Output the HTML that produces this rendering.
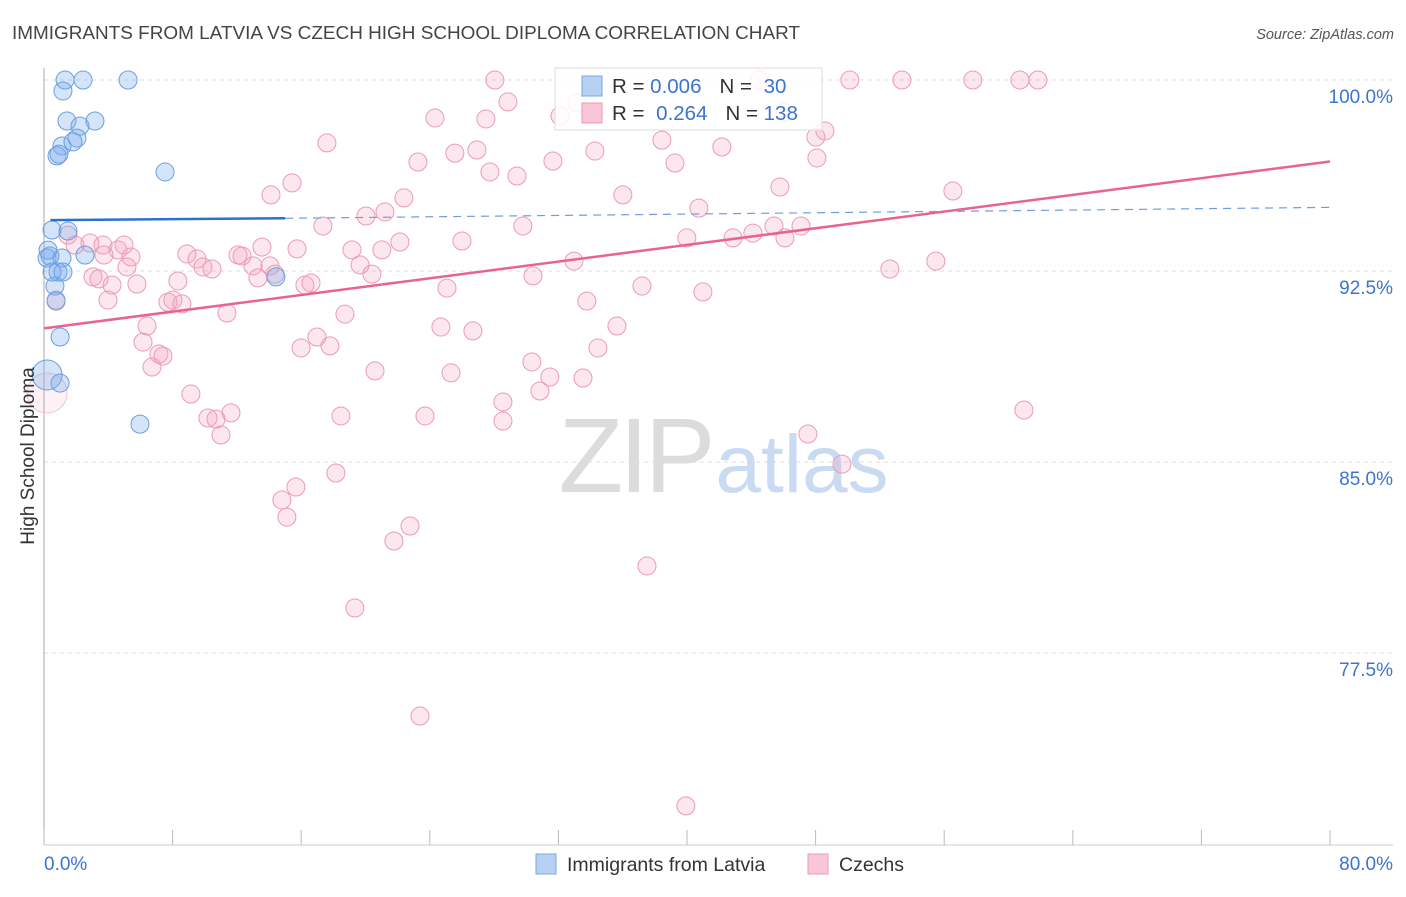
<!DOCTYPE html>
<html><head><meta charset="utf-8"><style>
body{margin:0;background:#fff;font-family:"Liberation Sans",sans-serif;}
svg text{font-family:"Liberation Sans",sans-serif;}
</style></head><body>
<svg id="chart" width="1406" height="892" viewBox="0 0 1406 892" xmlns="http://www.w3.org/2000/svg">
<text x="12" y="39" font-size="18" fill="#444" textLength="788" lengthAdjust="spacingAndGlyphs">IMMIGRANTS FROM LATVIA VS CZECH HIGH SCHOOL DIPLOMA CORRELATION CHART</text>
<text x="1394" y="39" font-size="14.5" fill="#555" font-style="italic" text-anchor="end">Source: ZipAtlas.com</text>
<g id="grid"></g>
<g>
<text x="635" y="492" font-size="106" fill="#dcdcdc" text-anchor="middle" font-family="Liberation Serif" letter-spacing="-4">ZIP</text>
<text x="802" y="492" font-size="82" fill="#c9dbf2" text-anchor="middle">atlas</text>
</g>
<g id="axes"></g>
<g id="pts"></g>
<g id="trends"></g>
<text transform="translate(34,456) rotate(-90)" font-size="19" fill="#333" text-anchor="middle">High School Diploma</text>
<g>
<rect x="555" y="68" width="267" height="62" fill="#fff" fill-opacity="0.85" stroke="#ddd"/>
<rect x="582" y="76" width="20" height="20" fill="#b7d1f3" stroke="#7aa8e6"/>
<rect x="582" y="103" width="20" height="20" fill="#f8c6d6" stroke="#eb9ab5"/>
<text x="612" y="93" font-size="20.5" fill="#333">R = <tspan fill="#3b74d1">0.006</tspan><tspan dx="18">N = </tspan><tspan fill="#3b74d1" dx="6">30</tspan></text>
<text x="612" y="120" font-size="20.5" fill="#333">R = <tspan fill="#3b74d1" dx="6">0.264</tspan><tspan dx="18">N = </tspan><tspan fill="#3b74d1">138</tspan></text>
</g>
<g>
<rect x="536" y="854" width="20" height="20" fill="#b7d1f3" stroke="#7aa8e6"/>
<text x="567" y="871" font-size="19.5" fill="#333">Immigrants from Latvia</text>
<rect x="808" y="854" width="20" height="20" fill="#f8c6d6" stroke="#eb9ab5"/>
<text x="839" y="871" font-size="19.5" fill="#333">Czechs</text>
</g>
</svg>
<script>
const yTicks=[100,92.5,85,77.5];
const yTickLabels=["100.0%","92.5%","85.0%","77.5%"];
const xTickLabels=["0.0%","80.0%"];
const blueX=[1.31,2.43,5.23,1.18,1.43,2.24,3.17,2.05,1.12,1.80,0.81,0.93,7.53,0.5,1.49,0.37,0.19,1.12,2.55,0.87,1.18,0.5,0.68,0.75,1.0,0.19,1.0,5.97,14.43,0.25];
const blueY=[100,100,100,99.57,98.39,98.19,98.39,97.72,97.41,97.57,97.02,97.09,96.39,94.11,94.07,93.09,93.01,93.01,93.13,92.46,92.46,92.46,91.91,91.32,89.91,88.42,88.1,86.49,92.27,93.32];
const pinkX=[28.05,44.47,50.13,53.37,57.78,60.71,61.83,33.15,28.86,24.32,27.49,32.1,46.09,48.02,48.58,17.6,38.44,42.17,23.26,25.56,26.93,31.66,34.27,39.25,48.08,27.74,29.42,15.43,14.12,22.39,36.01,45.78,56.54,21.21,20.03,40.74,17.35,29.79,45.41,47.09,26.0,22.14,39.99,42.86,44.1,46.09,19.16,21.02,13.56,15.74,1.49,1.93,2.86,3.67,4.6,4.98,5.41,3.73,8.89,9.52,9.89,10.45,12.07,12.32,14.06,13.0,14.37,13.31,5.16,19.66,20.4,32.97,3.05,3.42,4.23,5.78,8.33,37.2,52.62,55.48,30.42,16.23,16.61,25.07,33.77,40.99,7.71,8.02,8.58,3.98,0.75,11.38,6.41,24.69,26.68,35.64,18.72,16.98,17.79,15.99,6.16,7.15,7.4,6.72,34.46,30.35,20.59,25.32,31.47,33.53,9.14,30.85,10.2,11.63,10.7,11.01,18.47,23.7,28.55,28.55,60.96,47.52,49.64,18.16,15.67,14.8,15.11,22.77,21.77,37.51,19.34,23.39,39.93,0.19];
const pinkY=[100,100,100,100,100,100,100,99.10,99.14,98.51,98.47,98.59,98.74,97.76,98.0,97.53,97.64,97.37,96.78,97.13,97.25,96.82,97.21,96.74,96.94,96.39,96.23,95.96,95.49,95.37,95.49,95.8,95.64,94.82,94.66,94.97,94.27,94.27,94.27,94.27,93.68,93.64,93.8,93.8,93.99,93.8,93.33,93.33,93.44,93.37,93.91,93.52,93.6,93.52,93.33,93.52,93.05,93.13,93.17,92.97,92.66,92.58,93.13,93.09,92.7,92.7,92.38,92.23,92.66,92.74,92.38,92.89,92.27,92.19,91.95,91.99,92.11,91.91,92.58,92.89,92.31,91.95,92.03,91.83,91.32,91.68,91.28,91.36,91.21,91.36,91.36,90.85,90.34,90.3,90.15,90.34,90.81,89.91,89.56,89.48,89.71,89.24,89.16,88.73,89.48,88.93,88.58,88.5,88.34,88.3,87.67,87.79,86.73,86.93,86.69,86.06,86.81,86.81,87.36,86.61,87.04,86.1,84.92,84.57,84.02,83.51,82.84,82.49,81.9,80.92,79.27,75.03,71.5,87.71];
const blueTrend=[0.4,94.5,15,94.57,80,95.0];
const pinkTrend=[0,90.25,80,96.8];
const NS="http://www.w3.org/2000/svg";
const X0=44,X1=1330,Y100=80,PXU=25.47;
function sx(v){return X0+(X1-X0)*v/80;}
function sy(v){return Y100+(100-v)*PXU;}
function mk(tag,attrs,parent){const e=document.createElementNS(NS,tag);for(const k in attrs)e.setAttribute(k,attrs[k]);parent.appendChild(e);return e;}
const grid=document.getElementById('grid'),axes=document.getElementById('axes'),pts=document.getElementById('pts'),tr=document.getElementById('trends');
yTicks.forEach((t,i)=>{
 const l=mk('line',{x1:X0,x2:1393,y1:sy(t),y2:sy(t),stroke:'#ddd','stroke-dasharray':'4,4'},grid);
 
 
 const tx=mk('text',{x:1393,y:sy(t)+23,'font-size':19,fill:'#3b74d1','text-anchor':'end'},axes);
 tx.textContent=yTickLabels[i];
 
 
});
mk('line',{x1:X0,x2:X0,y1:68,y2:845,stroke:'#aaa'},axes);
mk('line',{x1:X0,x2:1393,y1:845,y2:845,stroke:'#ccc'},axes);
for(let i=0;i<=10;i++){const x=sx(i*8);const t=mk('line',{x1:x,x2:x,y1:830,y2:845,stroke:'#bbb'},axes);}
const xl0=mk('text',{x:44,y:870,'font-size':19,fill:'#3b74d1'},axes);xl0.textContent=xTickLabels[0];


const xl1=mk('text',{x:1393,y:870,'font-size':19,fill:'#3b74d1','text-anchor':'end'},axes);xl1.textContent=xTickLabels[1];


pinkX.forEach((v,i)=>{
 const big=i===pinkX.length-1;
 const c=mk('circle',{cx:sx(v),cy:sy(pinkY[i]),r:big?20:9,fill:big?'rgba(244,160,188,0.15)':'rgba(244,160,188,0.25)',stroke:big?'#f3c0d0':'#ec9ab6','stroke-width':1},pts);
 
 
});
blueX.forEach((v,i)=>{
 const c=mk('circle',{cx:sx(v),cy:sy(blueY[i]),r:i===25?15:9,fill:'rgba(120,170,235,0.32)',stroke:'#6b9fe0','stroke-width':1},pts);
 
 
});
const b1=mk('line',{x1:sx(blueTrend[0]),y1:sy(blueTrend[1]),x2:sx(blueTrend[2]),y2:sy(blueTrend[3]),stroke:'#2f6fcf','stroke-width':2.5},tr);


const b2=mk('line',{x1:sx(blueTrend[2]),y1:sy(blueTrend[3]),x2:sx(blueTrend[4]),y2:sy(blueTrend[5]),stroke:'#6b9fe0','stroke-width':1.2,'stroke-dasharray':'8,6'},tr);


const p1=mk('line',{x1:sx(pinkTrend[0]),y1:sy(pinkTrend[1]),x2:sx(pinkTrend[2]),y2:sy(pinkTrend[3]),stroke:'#e8648f','stroke-width':2.5},tr);


</script>
</body></html>
